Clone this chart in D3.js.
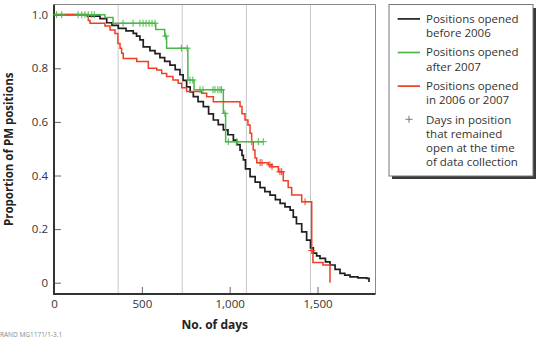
<!DOCTYPE html>
<html>
<head>
<meta charset="utf-8">
<script src="https://cdn.jsdelivr.net/npm/d3@7"></script>
<style>
  body { margin: 0; background: #fff; }
  svg { display: block; font-family: "Open Sans", "Noto Sans", sans-serif; }
</style>
</head>
<body>
<svg id="chart" width="546" height="338"></svg>
<script>
// ticks and labels
var xTicks = [0, 500, 1000, 1500];
var xLabels = ["0", "500", "1,000", "1,500"];
var yTicks = [0, 0.2, 0.4, 0.6, 0.8, 1.0];
var yLabels = ["0", "0.2", "0.4", "0.6", "0.8", "1.0"];
var yearLines = [365, 730, 1095, 1460];

// positions opened before 2006
var blackDays = [0, 190, 262, 300, 330, 366, 410, 451, 470, 489, 508, 546, 575, 603, 630, 660, 690, 717, 735, 755, 775, 793, 820, 850, 880, 907, 935, 964, 990, 1021, 1040, 1059, 1070, 1078, 1090, 1116, 1145, 1173, 1200, 1230, 1260, 1287, 1315, 1344, 1362, 1380, 1410, 1438, 1460, 1476, 1495, 1514, 1545, 1571, 1600, 1628, 1655, 1685, 1730, 1780, 1793];
var blackSurv = [1.0, 0.995, 0.985, 0.97, 0.96, 0.949, 0.94, 0.93, 0.92, 0.906, 0.88, 0.866, 0.855, 0.84, 0.826, 0.812, 0.795, 0.776, 0.755, 0.731, 0.712, 0.694, 0.676, 0.657, 0.63, 0.607, 0.59, 0.57, 0.552, 0.532, 0.515, 0.495, 0.475, 0.458, 0.425, 0.396, 0.375, 0.355, 0.34, 0.327, 0.31, 0.296, 0.283, 0.271, 0.245, 0.22, 0.19, 0.159, 0.13, 0.11, 0.1, 0.091, 0.078, 0.066, 0.05, 0.035, 0.028, 0.022, 0.018, 0.016, 0.003];

// positions opened after 2007
var greenDays = [0, 290, 336, 579, 630, 641, 762, 797, 964, 977, 1191];
var greenSurv = [1.0, 0.99, 0.968, 0.945, 0.92, 0.875, 0.756, 0.72, 0.632, 0.526, 0.526];
var greenCensor = [15, 44, 137, 158, 176, 195, 215, 229, 393, 450, 489, 507, 524, 541, 558, 575, 636, 725, 758, 774, 790, 831, 848, 905, 916, 933, 945, 954, 973, 992, 1040, 1125, 1163, 1191];

// positions opened in 2006 or 2007
var redDays = [0, 195, 205, 290, 319, 347, 364, 376, 385, 394, 471, 537, 585, 613, 641, 677, 707, 727, 755, 841, 869, 907, 1059, 1070, 1087, 1104, 1116, 1125, 1134, 1144, 1154, 1220, 1239, 1277, 1305, 1333, 1353, 1410, 1467, 1474, 1531, 1571];
var redSurv = [1.0, 0.978, 0.968, 0.958, 0.943, 0.93, 0.893, 0.875, 0.856, 0.837, 0.825, 0.8, 0.794, 0.781, 0.769, 0.756, 0.744, 0.727, 0.713, 0.707, 0.694, 0.675, 0.657, 0.63, 0.607, 0.588, 0.558, 0.526, 0.495, 0.465, 0.448, 0.44, 0.433, 0.414, 0.38, 0.355, 0.327, 0.302, 0.12, 0.075, 0.066, 0];
var redCensor = [1173, 1184, 1229, 1241, 1286, 1296, 1429, 1467];

var legendItems = [
    { lines: ["Positions opened", "before 2006"], color: "#231f20", type: "line" },
    { lines: ["Positions opened", "after 2007"], color: "#4cb849", type: "line" },
    { lines: ["Positions opened", "in 2006 or 2007"], color: "#ef3e23", type: "line" },
    { lines: ["Days in position", "that remained", "open at the time", "of data collection"], color: "#777", type: "plus" }
];

var svg = d3.select("#chart");
var plotLeft = 54, plotRight = 375.5, plotTop = 4.5, plotBottom = 294;

var x = d3.scaleLinear().domain([0, 1830]).range([plotLeft, plotRight]);
var y = d3.scaleLinear().domain([0, 1]).range([282.7, 14.7]);

// grey year lines
svg.append("g").selectAll("line")
    .data(yearLines)
    .enter().append("line")
    .attr("x1", d => x(d)).attr("x2", d => x(d))
    .attr("y1", plotTop).attr("y2", plotBottom)
    .attr("stroke", "#c8c8c8").attr("stroke-width", 1);

// frame: thin top and right
svg.append("path")
    .attr("d", "M" + plotLeft + "," + plotTop + "H" + plotRight + "V" + plotBottom)
    .attr("fill", "none").attr("stroke", "#8a8a8a").attr("stroke-width", 1);

var yAxis = svg.append("g")
    .attr("transform", "translate(" + plotLeft + ",0)")
    .call(d3.axisLeft(y).tickValues(yTicks).tickFormat((d, i) => yLabels[i])
        .tickSize(-7).tickPadding(6));
yAxis.select(".domain").remove();

var xAxis = svg.append("g")
    .attr("transform", "translate(0," + plotBottom + ")")
    .call(d3.axisBottom(x).tickValues(xTicks).tickFormat((d, i) => xLabels[i])
        .tickSize(-7).tickPadding(5.5));
xAxis.select(".domain").remove();

svg.selectAll(".tick line").attr("stroke", "#666");
svg.selectAll(".tick text").attr("fill", "#333").style("font-size", "11.5px")
    .style("font-family", "'Open Sans', 'Noto Sans', sans-serif");

// thick left and bottom axis lines
svg.append("path")
    .attr("d", "M" + plotLeft + "," + plotTop + "V" + plotBottom + "H" + plotRight)
    .attr("fill", "none").attr("stroke", "#333").attr("stroke-width", 2);

var line = d3.line()
    .x(d => x(d[0]))
    .y(d => y(d[1]))
    .curve(d3.curveStepAfter);

function pairs(days, surv) {
    return days.map((d, i) => [d, surv[i]]);
}

function survAt(days, surv, t) {
    var i = d3.bisectRight(days, t) - 1;
    return surv[Math.max(0, i)];
}

function drawPlus(g, cx, cy, color) {
    g.append("path")
        .attr("d", "M" + (cx - 3.5) + "," + cy + "H" + (cx + 3.5) + "M" + cx + "," + (cy - 3.5) + "V" + (cy + 3.5))
        .attr("stroke", color).attr("stroke-width", 1).attr("fill", "none");
}

svg.append("path")
    .datum(pairs(blackDays, blackSurv))
    .attr("fill", "none").attr("stroke", "#231f20").attr("stroke-width", 1.7)
    .attr("d", line);

svg.append("path")
    .datum(pairs(greenDays, greenSurv))
    .attr("fill", "none").attr("stroke", "#4cb849").attr("stroke-width", 1.5)
    .attr("d", line);

svg.append("path")
    .datum(pairs(redDays, redSurv))
    .attr("fill", "none").attr("stroke", "#ef3e23").attr("stroke-width", 1.5)
    .attr("d", line);

var marks = svg.append("g");
greenCensor.forEach(t => drawPlus(marks, x(t), y(survAt(greenDays, greenSurv, t)), "#4cb849"));
redCensor.forEach(t => drawPlus(marks, x(t), y(survAt(redDays, redSurv, t)), "#ef3e23"));

// axis titles
svg.append("text")
    .attr("x", (plotLeft + plotRight) / 2).attr("y", 329)
    .attr("text-anchor", "middle")
    .style("font-size", "12px").style("font-weight", "bold").attr("fill", "#222")
    .text("No. of days");

svg.append("text")
    .attr("transform", "translate(13," + ((plotTop + plotBottom) / 2) + ") rotate(-90)")
    .attr("text-anchor", "middle")
    .style("font-size", "11.5px").style("font-weight", "bold").attr("fill", "#222")
    .text("Proportion of PM positions");

svg.append("text")
    .attr("x", 0).attr("y", 337)
    .style("font-size", "6.5px").attr("fill", "#888")
    .text("RAND MG1171/1-3.1");

// legend
var lg = svg.append("g");
lg.append("rect")
    .attr("x", 392).attr("y", 8).attr("width", 144).attr("height", 171)
    .attr("fill", "#3a3a3a");
lg.append("rect")
    .attr("x", 389).attr("y", 4.5).attr("width", 144).attr("height", 171.5)
    .attr("fill", "#fff").attr("stroke", "#777").attr("stroke-width", 1);

var lineH = 14.3, baseY = 22.7;
legendItems.forEach(item => {
    if (item.type === "line") {
        lg.append("line")
            .attr("x1", 397.7).attr("x2", 420)
            .attr("y1", baseY - 3.8).attr("y2", baseY - 3.8)
            .attr("stroke", item.color).attr("stroke-width", 1.7);
    } else {
        drawPlus(lg, 409, baseY - 4.2, item.color);
    }
    item.lines.forEach((t, j) => {
        lg.append("text")
            .attr("x", 426).attr("y", baseY + j * lineH)
            .style("font-size", "11.5px").attr("fill", "#333")
            .text(t);
    });
    baseY += item.lines.length * lineH + 5;
});
</script>
</body>
</html>
